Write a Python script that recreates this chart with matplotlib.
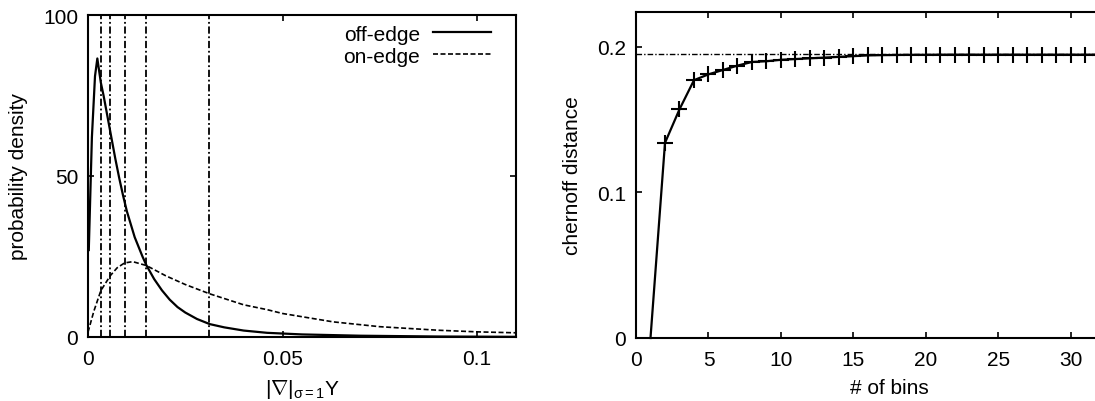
import matplotlib
matplotlib.use("Agg")
import matplotlib.pyplot as plt

plt.rcParams['font.family'] = ['Liberation Sans', 'DejaVu Sans']
plt.rcParams['mathtext.fontset'] = 'custom'
plt.rcParams['mathtext.rm'] = 'Liberation Sans'
plt.rcParams['mathtext.it'] = 'Liberation Sans'
plt.rcParams['font.size'] = 15

# --- left panel: densities of gradient magnitude ---
off_x = [0.0002, 0.0010, 0.0018, 0.0024, 0.0033, 0.004, 0.005, 0.006, 0.007, 0.008,
         0.009, 0.010, 0.011, 0.012, 0.013, 0.014, 0.015, 0.017, 0.019, 0.021,
         0.023, 0.025, 0.028, 0.0313, 0.035, 0.04, 0.046, 0.055, 0.07, 0.09, 0.11]
off_y = [27, 62, 81, 86.5, 79, 75, 68.5, 62, 55.5, 49.5,
         44, 39, 35, 31, 28, 25, 22.3, 18, 14.5, 11.6,
         9.3, 7.6, 5.6, 4.0, 3.0, 2.0, 1.3, 0.8, 0.4, 0.15, 0.05]

on_x = [0.0, 0.0015, 0.0033, 0.0057, 0.0075, 0.0094, 0.0115, 0.015, 0.02, 0.025,
        0.0313, 0.04, 0.046, 0.05, 0.063, 0.075, 0.09, 0.1, 0.11]
on_y = [1.5, 8, 14.4, 19, 21.5, 23, 23.4, 22.2, 19, 16.3,
        13.4, 10, 8.5, 7.3, 4.7, 3.2, 2.1, 1.6, 1.3]

bin_edges = [0.0033, 0.0057, 0.0094, 0.0150, 0.0312]

# --- right panel: chernoff distance vs number of bins ---
n_bins = list(range(1, 33))
chernoff = [0.0, 0.134, 0.157, 0.177, 0.181, 0.184, 0.187, 0.1895, 0.190, 0.191,
            0.1915, 0.192, 0.1925, 0.193, 0.1935, 0.194, 0.1942, 0.1943, 0.1944, 0.1944,
            0.1945, 0.1945, 0.1945, 0.1945, 0.1945, 0.1945, 0.1945, 0.1945, 0.1945, 0.1945,
            0.1945, 0.1945]
chernoff_limit = 0.1947

fig = plt.figure(figsize=(10.95, 4.02), dpi=100)

ax1 = fig.add_axes([88/1095, 64/402, 428/1095, 322/402])
for xe in bin_edges:
    ax1.axvline(xe, color='black', lw=1.3, ls=(0, (4, 1.5, 1, 1.5)))
ax1.plot(off_x, off_y, color='black', lw=1.6, label='off-edge')
ax1.plot(on_x, on_y, color='black', lw=1.2, ls=(0, (3, 1.5)), label='on-edge')
ax1.set_xlim(0, 0.11)
ax1.set_ylim(0, 100)
ax1.set_xticks([0, 0.05, 0.1])
ax1.set_xticklabels(['0', '0.05', '0.1'])
ax1.set_yticks([0, 50, 100])
ax1.set_xlabel(r'|$\nabla$|$_{\sigma=1}$Y')
ax1.set_ylabel('probability density')
ax1.legend(loc='upper right', bbox_to_anchor=(0.961, 0.996), frameon=False,
           markerfirst=False, handlelength=2.8, borderaxespad=0,
           labelspacing=0.15, handletextpad=0.6)

ax2 = fig.add_axes([636/1095, 63/402, 507.5/1095, 326.3/402])
ax2.axhline(chernoff_limit, color='black', lw=1.0, ls=(0, (4, 1.5, 1, 1.5)))
ax2.plot(n_bins, chernoff, color='black', lw=1.6, marker='+', ms=11, mew=1.5,
         markevery=list(range(1, len(n_bins))), clip_on=False)
ax2.set_xlim(0, 35)
ax2.set_ylim(0, 0.224)
ax2.set_xticks([0, 5, 10, 15, 20, 25, 30])
ax2.set_yticks([0, 0.1, 0.2])
ax2.set_yticklabels(['0', '0.1', '0.2'])
ax2.set_xlabel('# of bins')
ax2.set_ylabel('chernoff distance')

for ax in (ax1, ax2):
    ax.tick_params(direction='in', top=True, right=True, length=4, width=1.2,
                   labelsize=15, pad=9)
    ax.tick_params(axis='y', pad=7)
    for s in ax.spines.values():
        s.set_linewidth(1.5)
    ax.xaxis.labelpad = 6
    ax.yaxis.labelpad = 11

fig.savefig('out.png', dpi=100)
